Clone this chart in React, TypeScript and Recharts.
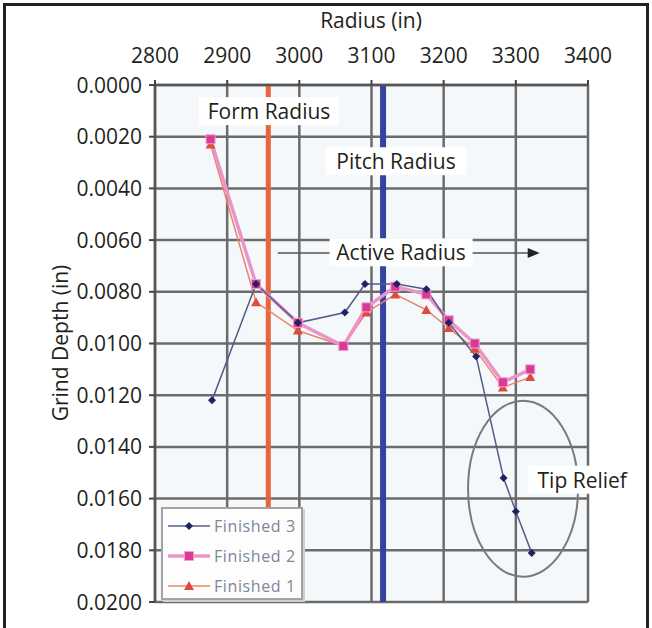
import React from 'react'
import {
  LineChart,
  Line,
  XAxis,
  YAxis,
  CartesianGrid,
  ReferenceLine,
  ReferenceDot,
} from 'recharts'

const radiusTicks = [2800, 2900, 3000, 3100, 3200, 3300, 3400]
const depthTicks = [0, 0.002, 0.004, 0.006, 0.008, 0.01, 0.012, 0.014, 0.016, 0.018, 0.02]

const finished3Radius = [2879, 2940, 2998, 3063, 3091, 3135, 3176, 3207, 3245, 3283, 3300, 3322]
const finished3Depth = [0.0122, 0.0077, 0.0092, 0.0088, 0.0077, 0.0077, 0.0079, 0.0092, 0.0105, 0.0152, 0.0165, 0.0181]

const finished2Radius = [2877, 2940, 2998, 3061, 3093, 3133, 3176, 3207, 3243, 3282, 3320]
const finished2Depth = [0.0021, 0.0077, 0.0092, 0.0101, 0.0086, 0.0078, 0.0081, 0.0091, 0.01, 0.0115, 0.011]

const finished1Radius = [2877, 2940, 2998, 3061, 3093, 3133, 3176, 3207, 3243, 3282, 3320]
const finished1Depth = [0.0023, 0.0084, 0.0095, 0.0101, 0.0088, 0.0081, 0.0087, 0.0094, 0.0102, 0.0117, 0.0113]

// vertical markers and annotations (data units)
const formRadius = 2957
const pitchRadius = 3116
const activeSpan = [2970, 3322]
const activeDepth = 0.0065
const tipRelief = { x: 3310, y: 0.01562 }

const notes = [
  { text: 'Form Radius', x: 2958, y: 0.00101, w: 140 },
  { text: 'Pitch Radius', x: 3134, y: 0.00295, w: 140 },
  { text: 'Active Radius', x: 3141, y: 0.00647, w: 143 },
  { text: 'Tip Relief', x: 3392, y: 0.01527, w: 108 },
]

const toPoints = (xs: number[], ys: number[]) => xs.map((x, i) => ({ x, y: ys[i] }))

const FONT = '"Open Sans", sans-serif'
const INK = '#231f20'

function Diamond(p: any) {
  const { cx, cy } = p
  if (cx == null || cy == null) return <g key={p.index} />
  return (
    <polygon
      key={`d${p.index}`}
      points={`${cx},${cy - 4} ${cx + 4},${cy} ${cx},${cy + 4} ${cx - 4},${cy}`}
      fill="#1d2363"
    />
  )
}

function Square(p: any) {
  const { cx, cy } = p
  if (cx == null || cy == null) return <g key={p.index} />
  return (
    <rect key={`s${p.index}`} x={cx - 4.5} y={cy - 4.5} width={9} height={9} fill="#d93a98" stroke="#f0a0d0" strokeWidth={1} />
  )
}

function Triangle(p: any) {
  const { cx, cy } = p
  if (cx == null || cy == null) return <g key={p.index} />
  return (
    <polygon
      key={`t${p.index}`}
      points={`${cx},${cy - 5} ${cx + 5},${cy + 4} ${cx - 5},${cy + 4}`}
      fill="#dc4c3c"
    />
  )
}

function NoteBox({ cx, cy, text, w }: any) {
  return (
    <g>
      <rect x={cx - w / 2} y={cy - 14} width={w} height={28} fill="#ffffff" />
      <text x={cx} y={cy} textAnchor="middle" dominantBaseline="central" fontSize={21} fontFamily={FONT} fill={INK}>
        {text}
      </text>
    </g>
  )
}

function TopTick({ x, payload }: any) {
  return (
    <text x={x} y={63} textAnchor="middle" fontSize={21} fontFamily={FONT} fill={INK}>
      {payload.value}
    </text>
  )
}

function LeftTick({ x, y, payload }: any) {
  return (
    <text x={x} y={y} dy="0.36em" textAnchor="end" fontSize={21} fontFamily={FONT} fill={INK}>
      {payload.value.toFixed(4)}
    </text>
  )
}

const legendItems = [
  { name: 'Finished 3', color: '#545c8c', width: 1.5, marker: 'diamond' },
  { name: 'Finished 2', color: '#ec94c8', width: 3.5, marker: 'square' },
  { name: 'Finished 1', color: '#e8846c', width: 1.5, marker: 'triangle' },
]

function LegendBox() {
  return (
    <div
      style={{
        position: 'absolute',
        left: 161,
        top: 507,
        width: 142,
        height: 93,
        boxSizing: 'border-box',
        border: '2px solid #a3a3a3',
        boxShadow: '2px 2px 0 #cfcfcf',
        background: '#fdfdfd',
      }}
    >
      {legendItems.map((it, i) => (
        <div key={it.name} style={{ position: 'absolute', left: 4, top: 6 + i * 30, height: 22, display: 'flex', alignItems: 'center' }}>
          <svg width={44} height={14}>
            <line x1={1} y1={7} x2={43} y2={7} stroke={it.color} strokeWidth={it.width} />
            {it.marker === 'diamond' && <Diamond cx={22} cy={7} index={0} />}
            {it.marker === 'square' && <Square cx={22} cy={7} index={0} />}
            {it.marker === 'triangle' && <Triangle cx={22} cy={7} index={0} />}
          </svg>
          <span style={{ fontFamily: FONT, fontSize: 16, letterSpacing: 0.6, color: '#7d8699', marginLeft: 3 }}>{it.name}</span>
        </div>
      ))}
    </div>
  )
}

export default function App() {
  return (
    <div style={{ position: 'absolute', left: 0, top: 0, width: 652, height: 628, background: '#ffffff', overflow: 'hidden' }}>
      <div
        style={{
          position: 'absolute',
          left: 3,
          top: 3,
          width: 646,
          height: 640,
          boxSizing: 'border-box',
          border: '3px solid #231f20',
        }}
      />
      <div style={{ position: 'absolute', left: 0, top: 0 }}>
        <LineChart width={652} height={628} margin={{ top: 0, right: 64, bottom: 26, left: 5 }}>
          <CartesianGrid stroke="#6b6b6b" strokeWidth={2.5} fill="#f5f8fb" />
          <XAxis
            xAxisId={0}
            type="number"
            dataKey="x"
            orientation="top"
            domain={[2800, 3400]}
            ticks={radiusTicks}
            height={85}
            tick={<TopTick />}
            tickSize={5}
            axisLine={{ stroke: '#555', strokeWidth: 2.5 }}
            tickLine={{ stroke: '#444', strokeWidth: 2 }}
            label={{
              content: (p: any) => (
                <text x={371} y={28} textAnchor="middle" fontSize={21} fontFamily={FONT} fill={INK}>
                  Radius (in)
                </text>
              ),
            }}
          />
          <YAxis
            type="number"
            dataKey="y"
            reversed
            domain={[0, 0.02]}
            ticks={depthTicks}
            width={150}
            tick={<LeftTick />}
            tickSize={6}
            tickMargin={7}
            axisLine={{ stroke: '#555', strokeWidth: 2.5 }}
            tickLine={{ stroke: '#444', strokeWidth: 2 }}
            label={{
              content: () => (
                <text
                  transform="translate(60,343) rotate(-90)"
                  textAnchor="middle"
                  dominantBaseline="central"
                  fontSize={21}
                  fontFamily={FONT}
                  fill={INK}
                >
                  Grind Depth (in)
                </text>
              ),
            }}
          />

          <ReferenceLine x={formRadius} stroke="#e8643c" strokeWidth={5} />
          <ReferenceLine x={pitchRadius} stroke="#3344a0" strokeWidth={6} />
          <ReferenceLine
            segment={[
              { x: activeSpan[0], y: activeDepth },
              { x: activeSpan[1], y: activeDepth },
            ]}
            stroke="#555"
            strokeWidth={1.5}
          />
          <ReferenceDot
            x={activeSpan[1]}
            y={activeDepth}
            shape={(p: any) => (
              <polygon points={`${p.cx + 8},${p.cy} ${p.cx - 4},${p.cy - 5} ${p.cx - 4},${p.cy + 5}`} fill="#222" />
            )}
          />

          <Line
            data={toPoints(finished1Radius, finished1Depth)}
            dataKey="y"
            stroke="#e8846c"
            strokeWidth={1.5}
            dot={Triangle}
            activeDot={false}
            isAnimationActive={false}
          />
          <Line
            data={toPoints(finished2Radius, finished2Depth)}
            dataKey="y"
            stroke="#ec94c8"
            strokeWidth={3.5}
            dot={Square}
            activeDot={false}
            isAnimationActive={false}
          />
          <Line
            data={toPoints(finished3Radius, finished3Depth)}
            dataKey="y"
            stroke="#545c8c"
            strokeWidth={1.5}
            dot={Diamond}
            activeDot={false}
            isAnimationActive={false}
          />

          <ReferenceDot
            x={tipRelief.x}
            y={tipRelief.y}
            shape={(p: any) => <ellipse cx={p.cx} cy={p.cy} rx={55} ry={88} fill="none" stroke="#7a7a7a" strokeWidth={2} />}
          />
          {notes.map((n) => (
            <ReferenceDot
              key={n.text}
              x={n.x}
              y={n.y}
              ifOverflow="visible"
              shape={(p: any) => <NoteBox cx={p.cx} cy={p.cy} text={n.text} w={n.w} />}
            />
          ))}
        </LineChart>
      </div>
      <LegendBox />
    </div>
  )
}
